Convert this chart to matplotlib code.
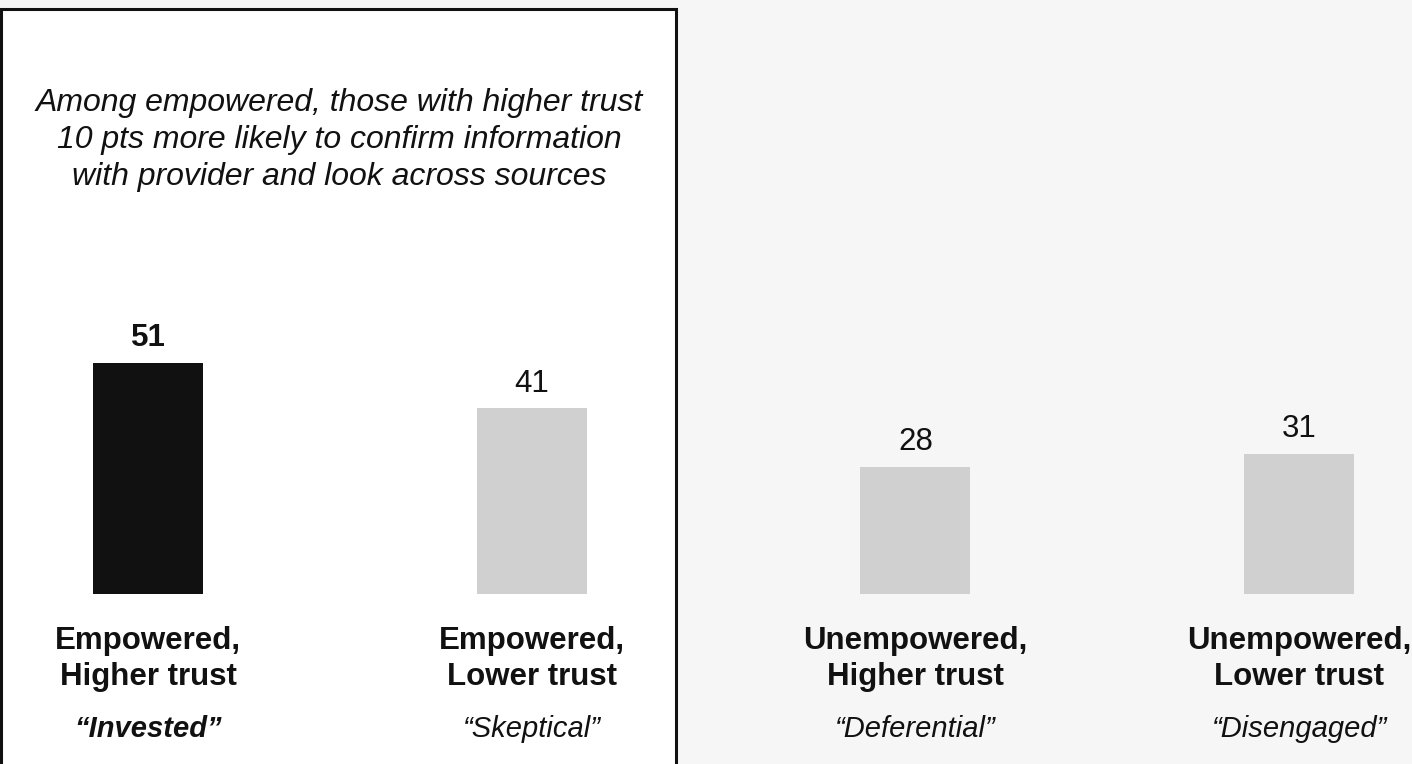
import matplotlib.pyplot as plt
from matplotlib.patches import Rectangle
from matplotlib.transforms import blended_transform_factory

plt.rcParams['font.family'] = ['Liberation Sans', 'DejaVu Sans']

groups = ['Empowered,\nHigher trust', 'Empowered,\nLower trust',
          'Unempowered,\nHigher trust', 'Unempowered,\nLower trust']
nicknames = ['\u201cInvested\u201d', '\u201cSkeptical\u201d',
             '\u201cDeferential\u201d', '\u201cDisengaged\u201d']
values = [51, 41, 28, 31]
colors = ['#111111', '#d0d0d0', '#d0d0d0', '#d0d0d0']
title = ('Among empowered, those with higher trust\n'
         '10 pts more likely to confirm information\n'
         'with provider and look across sources')

W, H = 1412, 764
fig = plt.figure(figsize=(W / 100, H / 100), dpi=100)
fig.patch.set_facecolor('#f6f6f6')

ax = fig.add_axes([0, 0, 1, 1])
ax.patch.set_alpha(0)

# white box around first two bars
box = Rectangle((1 / W, -0.05), 675 / W, 1.05 - 9 / H, transform=fig.transFigure,
                facecolor='white', edgecolor='#111111', linewidth=2.2,
                zorder=0, clip_on=False)
ax.add_patch(box)

x = list(range(len(values)))
ax.bar(x, values, width=0.287, color=colors, zorder=2)
ax.set_xlim(-148 / 383.7, (W - 148) / 383.7)
ax.set_ylim(-170 / 4.53, (H - 170) / 4.53)
ax.axis('off')

for i, v in enumerate(values):
    ax.annotate(str(v), (i, v), xytext=(0, 12), textcoords='offset points',
                ha='center', va='baseline', fontsize=22.5,
                fontweight='bold' if i == 0 else 'normal', color='#111111')

tr = blended_transform_factory(ax.transData, fig.transFigure)
for i, (g, n) in enumerate(zip(groups, nicknames)):
    ax.text(i, 1 - 659 / H, g, transform=tr, ha='center', va='center',
            fontsize=22.5, fontweight='bold', linespacing=1.25, color='#111111')
    ax.text(i, 1 - 729 / H, n, transform=tr, ha='center', va='center',
            fontsize=21, fontstyle='italic',
            fontweight='bold' if i == 0 else 'normal', color='#111111')

fig.text(339 / W, 1 - 140 / H, title, ha='center', va='center', fontsize=23,
         fontstyle='italic', linespacing=1.3, color='#111111')

fig.savefig('out.png', dpi=100, facecolor=fig.get_facecolor())
